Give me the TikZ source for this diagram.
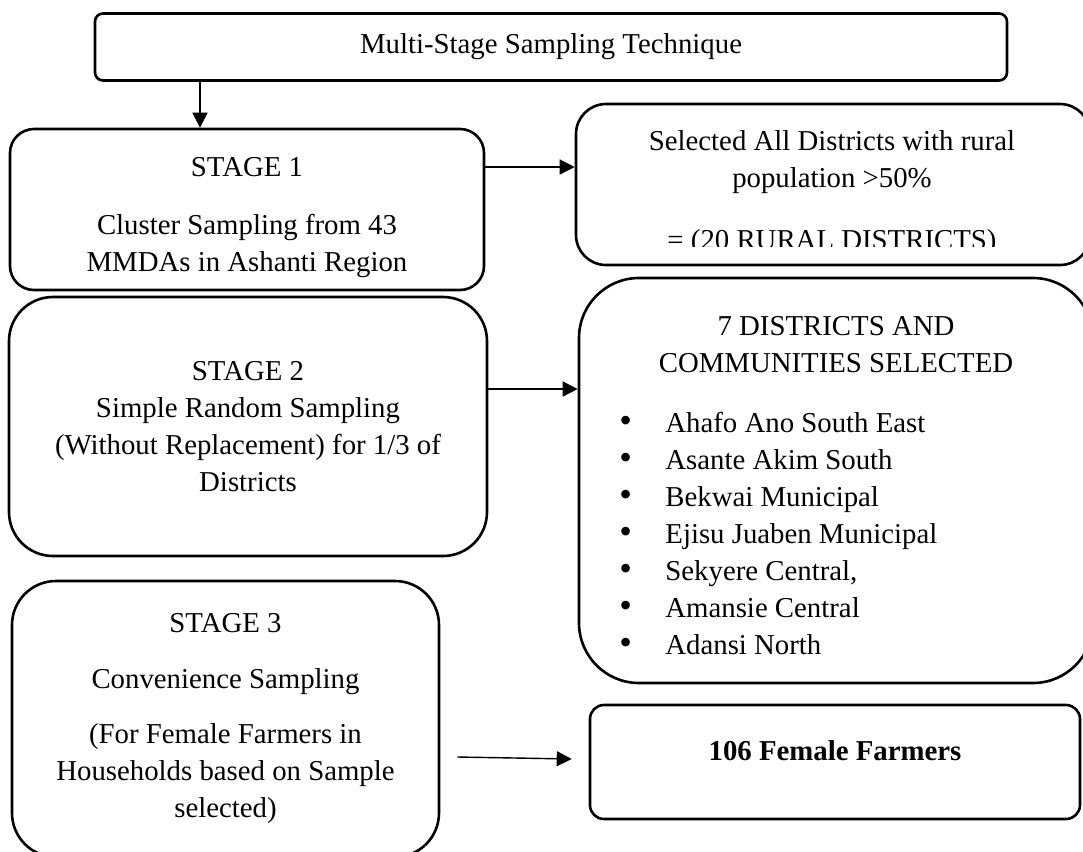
\documentclass[tikz,border=0pt]{standalone}
\usepackage{fontspec}
\setmainfont{Liberation Serif}
\usetikzlibrary{arrows.meta}
\newcommand{\itm}[1]{\makebox[23pt][l]{\fontsize{18}{18}\selectfont\textbullet}#1}
\tikzset{
	box/.style={draw, line width=1.3pt, align=center, inner sep=0pt, font=\fontsize{14.4}{18.5}\selectfont},
	txt/.style={align=center, inner sep=0pt, font=\fontsize{14.4}{18.5}\selectfont},
	arr/.style={-{Triangle[length=7.5pt,width=7.5pt]}, line width=0.7pt}
}
\begin{document}
\begin{tikzpicture}[x=0.5pt, y=-0.5pt]
	\useasboundingbox (0,0) rectangle (1083,852);

	% left column: stages
	\node[box, rounded corners=4pt, minimum width=456pt, minimum height=33.5pt] (top) at (551,47) {Multi-Stage Sampling Technique};
	\node[box, rounded corners=12pt, minimum width=237pt, minimum height=80.5pt] (stage1) at (247,209.5) {\rule{0pt}{17.5pt}STAGE 1\\[10.5pt] Cluster Sampling from 43\\ MMDAs in Ashanti Region};
	\node[box, rounded corners=22pt, minimum width=239pt, minimum height=129.5pt] (stage2) at (248,426.5) {STAGE 2\\ Simple Random Sampling\\ (Without Replacement) for 1/3 of\\ Districts};
	\node[box, rounded corners=22pt, minimum width=213.5pt, minimum height=138pt] (stage3) at (225.5,719) {STAGE 3\\[9.5pt] Convenience Sampling\\[9pt] (For Female Farmers in\\ Households based on Sample\\ selected)};

	% right column: results
	\node[box, rounded corners=15pt, minimum width=257pt, minimum height=80.5pt] (sel) at (833,184.5) {};
	\node[txt] (seltxt) at (832,162) {Selected All Districts with rural\\ population >50\%};
	\begin{scope}
		\clip (570,100) rectangle (1090,246);
		\node[txt] (selnum) at (832,243) {= (20 RURAL DISTRICTS)};
	\end{scope}

	\node[box, rounded corners=30pt, minimum width=257pt, minimum height=202.5pt] (dist) at (836,480.5) {};
	\node[txt] (disttxt) at (836,344.5) {7 DISTRICTS AND\\ COMMUNITIES SELECTED};
	\node[txt, align=left, anchor=west] (distlist) at (619,533) {\itm{Ahafo Ano South East}\\ \itm{Asante Akim South}\\ \itm{Bekwai Municipal}\\ \itm{Ejisu Juaben Municipal}\\ \itm{Sekyere Central,}\\ \itm{Amansie Central}\\ \itm{Adansi North}};

	\node[box, rounded corners=7pt, minimum width=245pt, minimum height=57pt, font=\fontsize{14.4}{18.5}\selectfont\bfseries] (res) at (835,762) {106 Female Farmers\rule[-12pt]{0pt}{0pt}};

	% arrows
	\draw[arr] ([xshift=-175.5pt]top.south) -- ([xshift=-175.5pt]top.south |- stage1.north);
	\draw[arr] ([yshift=21.25pt]stage1.east) -- ([yshift=21.25pt]stage1.east -| sel.west);
	\draw[arr] ([yshift=18.75pt]stage2.east) -- ([yshift=18.75pt]stage2.east -| dist.west);
	\draw[arr] ([xshift=8.5pt,yshift=-19pt]stage3.east) -- ([xshift=-8.5pt,yshift=1.5pt]res.west);
\end{tikzpicture}
\end{document}
